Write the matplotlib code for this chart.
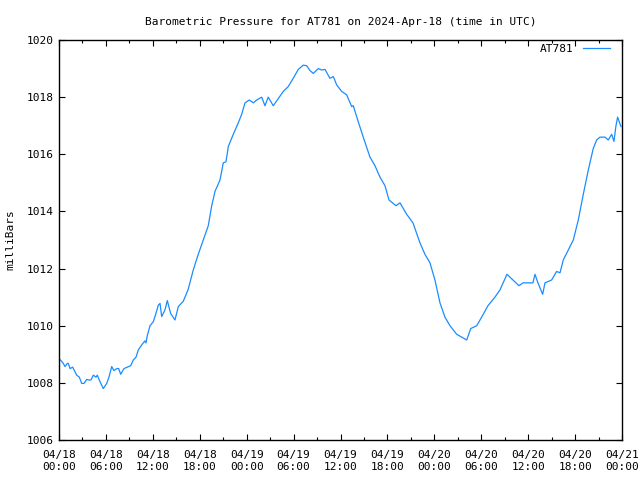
import matplotlib
matplotlib.use("Agg")
import matplotlib.pyplot as plt
from matplotlib.ticker import FixedLocator, MultipleLocator

# hours since 2024-04-18 00:00 UTC
hours = [0.2, 0.55, 0.77, 1.06, 1.19, 1.41, 1.75, 2.26, 2.6, 2.9, 3.2, 3.54,
         3.87, 4.09, 4.39, 4.73, 4.9, 5.15, 5.66, 6.1, 6.39, 6.74, 7.03, 7.38,
         7.63, 7.89, 8.31, 8.73, 9.17, 9.5, 9.85, 10.14, 10.58, 11.0, 11.13,
         11.29, 11.64, 12.06, 12.4, 12.7, 12.92, 13.13, 13.55, 13.85, 14.28,
         14.83, 15.26, 15.9, 16.53, 17.17, 17.81, 18.45, 19.09, 19.53, 19.95,
         20.59, 21.01, 21.36, 21.65, 22.29, 22.93, 23.36, 23.79, 24.34, 24.85,
         25.28, 25.92, 26.34, 26.76, 27.4, 27.92, 28.68, 29.32, 29.96, 30.6,
         31.24, 31.67, 32.1, 32.52, 33.16, 33.59, 34.02, 34.65, 35.08, 35.51,
         36.15, 36.79, 37.43, 37.63, 38.27, 38.91, 39.77, 40.41, 41.05, 41.69,
         42.2, 43.1, 43.61, 44.46, 45.27, 46.16, 46.8, 47.44, 48.08, 48.72,
         49.36, 50.0, 50.86, 51.5, 52.14, 52.65, 53.42, 54.05, 54.86, 55.75,
         56.39, 57.29, 58.06, 58.82, 59.34, 59.97, 60.61, 60.87, 61.25, 61.85,
         62.15, 63.0, 63.64, 64.07, 64.49, 65.13, 65.77, 66.41, 67.05, 67.69,
         68.32, 68.76, 69.18, 69.82, 70.24, 70.68, 70.97, 71.23, 71.44, 71.87]

pressure = [1008.8, 1008.68, 1008.57, 1008.68, 1008.68, 1008.5, 1008.55,
            1008.27, 1008.2, 1007.98, 1007.98, 1008.12, 1008.1, 1008.1,
            1008.27, 1008.2, 1008.27, 1008.1, 1007.8, 1007.98, 1008.2,
            1008.57, 1008.43, 1008.5, 1008.5, 1008.3, 1008.5, 1008.55,
            1008.6, 1008.8, 1008.9, 1009.15, 1009.33, 1009.47, 1009.4,
            1009.65, 1010.0, 1010.14, 1010.43, 1010.72, 1010.78, 1010.32,
            1010.55, 1010.88, 1010.43, 1010.2, 1010.67, 1010.86, 1011.28,
            1011.95, 1012.5, 1013.0, 1013.5, 1014.2, 1014.7, 1015.1, 1015.7,
            1015.74, 1016.27, 1016.7, 1017.1, 1017.4, 1017.8, 1017.9, 1017.8,
            1017.9, 1018.0, 1017.7, 1018.0, 1017.7, 1017.9, 1018.2, 1018.37,
            1018.66, 1018.97, 1019.12, 1019.1, 1018.93, 1018.83, 1019.0,
            1018.95, 1018.97, 1018.66, 1018.72, 1018.43, 1018.2, 1018.08,
            1017.67, 1017.7, 1017.14, 1016.6, 1015.9, 1015.6, 1015.2, 1014.9,
            1014.4, 1014.2, 1014.3, 1013.9, 1013.6, 1012.9, 1012.5, 1012.2,
            1011.6, 1010.8, 1010.3, 1010.0, 1009.7, 1009.6, 1009.5, 1009.9,
            1010.0, 1010.3, 1010.7, 1011.0, 1011.25, 1011.8, 1011.6, 1011.4,
            1011.5, 1011.5, 1011.5, 1011.8, 1011.5, 1011.1, 1011.5, 1011.6,
            1011.9, 1011.85, 1012.3, 1012.65, 1013.0, 1013.7, 1014.6, 1015.45,
            1016.2, 1016.5, 1016.6, 1016.6, 1016.5, 1016.7, 1016.45, 1017.0,
            1017.3, 1016.97]

tick_hours = [0, 6, 12, 18, 24, 30, 36, 42, 48, 54, 60, 66, 72]
tick_labels = ["04/18\n00:00", "04/18\n06:00", "04/18\n12:00", "04/18\n18:00",
               "04/19\n00:00", "04/19\n06:00", "04/19\n12:00", "04/19\n18:00",
               "04/20\n00:00", "04/20\n06:00", "04/20\n12:00", "04/20\n18:00",
               "04/21\n00:00"]

plt.rcParams['font.family'] = ['DejaVu Sans Mono']
plt.rcParams['font.size'] = 8

fig = plt.figure(figsize=(6.4, 4.8), dpi=100)
ax = fig.add_axes([59 / 640, 40 / 480, 563 / 640, 400 / 480])

ax.plot(hours, pressure, color='#1a8cff', lw=0.9, label='AT781')

ax.set_xlim(0, 72)
ax.set_ylim(1006, 1020)
ax.xaxis.set_major_locator(FixedLocator(tick_hours))
ax.set_xticklabels(tick_labels, linespacing=1.25)
ax.xaxis.set_minor_locator(MultipleLocator(3))
ax.yaxis.set_major_locator(MultipleLocator(2))
ax.tick_params(which='both', direction='in', top=True, right=True, width=0.8)
ax.tick_params(which='major', length=4, pad=4)
ax.tick_params(axis='x', which='major', pad=7)
ax.tick_params(which='minor', length=2)
for s in ax.spines.values():
    s.set_linewidth(1.0)

ax.set_ylabel('milliBars', labelpad=8)
ax.set_title('Barometric Pressure for AT781 on 2024-Apr-18 (time in UTC)',
             fontsize=8, pad=11)
ax.legend(loc='upper right', frameon=False, markerfirst=False,
          handlelength=2.45, handletextpad=0.8, borderpad=0,
          borderaxespad=0, bbox_to_anchor=(1 - 12 / 563, 1 - 4 / 400))

fig.savefig('out.png', dpi=100)
